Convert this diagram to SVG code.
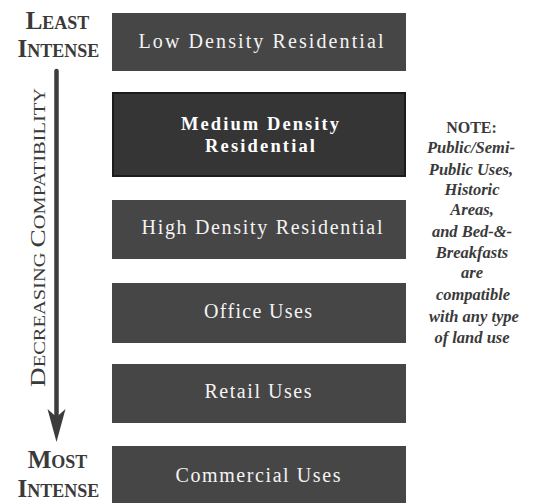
<svg xmlns="http://www.w3.org/2000/svg" width="535" height="503" viewBox="0 0 535 503">
  <style>
    .box { fill: #464646; }
    .boxdark { fill: #353535; stroke: #1c1c1c; stroke-width: 2; }
    .lbl { font-family: "Liberation Serif", "DejaVu Serif", serif; font-size: 20px; fill: #f4f4f4; text-anchor: middle; }
    .lblb { font-family: "Liberation Serif", "DejaVu Serif", serif; font-size: 18.5px; fill: #ffffff; text-anchor: middle; font-weight: bold; }
    .cap { font-family: "Liberation Serif", "DejaVu Serif", serif; font-weight: bold; fill: #3a3a3a; text-anchor: middle; }
    .big { font-size: 25px; }
    .sm { font-size: 18px; }
    .vert { font-family: "Liberation Serif", "DejaVu Serif", serif; fill: #3a3a3a; text-anchor: middle; }
    .note { font-family: "Liberation Serif", "DejaVu Serif", serif; font-size: 16.5px; font-style: italic; font-weight: bold; fill: #3a3a3a; text-anchor: middle; }
    .notehead { font-family: "Liberation Serif", "DejaVu Serif", serif; font-size: 16px; font-weight: bold; fill: #3a3a3a; text-anchor: middle; }
  </style>
  <rect width="535" height="503" fill="#ffffff"/>

  <g id="label-least">
    <text class="cap" x="57.5" y="29"><tspan class="big">L</tspan><tspan class="sm">EAST</tspan></text>
    <text class="cap" x="58.5" y="57"><tspan class="big">I</tspan><tspan class="sm">NTENSE</tspan></text>
  </g>
  <g id="label-most">
    <text class="cap" x="57.5" y="468"><tspan class="big">M</tspan><tspan class="sm">OST</tspan></text>
    <text class="cap" x="58.5" y="497"><tspan class="big">I</tspan><tspan class="sm">NTENSE</tspan></text>
  </g>
  <g id="label-axis">
    <text class="vert" transform="translate(45,237.5) rotate(-90)" x="0" y="0" textLength="299" lengthAdjust="spacingAndGlyphs"><tspan font-size="22">D</tspan><tspan font-size="16.5">ECREASING </tspan><tspan font-size="22">C</tspan><tspan font-size="16.5">OMPATIBILITY</tspan></text>
  </g>

  <g id="connectors">
    <line x1="56.5" y1="71" x2="56.5" y2="420" stroke="#3c3c3c" stroke-width="4.5" stroke-linecap="round"/>
    <path d="M56.5,442 L47.5,409 L56.5,417 L65.5,409 Z" fill="#3c3c3c"/>
  </g>

  <g id="node-low">
    <rect class="box" x="112" y="13" width="294" height="58"/>
    <text class="lbl" x="261" y="48" textLength="245" lengthAdjust="spacing">Low Density Residential</text>
  </g>
  <g id="node-medium">
    <rect class="boxdark" x="113" y="93" width="292" height="83"/>
    <text class="lblb" x="260" y="130" textLength="158" lengthAdjust="spacing">Medium Density</text>
    <text class="lblb" x="260" y="151.5" textLength="110" lengthAdjust="spacing">Residential</text>
  </g>
  <g id="node-high">
    <rect class="box" x="112" y="200" width="294" height="59"/>
    <text class="lbl" x="262" y="234" textLength="241" lengthAdjust="spacing">High Density Residential</text>
  </g>
  <g id="node-office">
    <rect class="box" x="112" y="283" width="294" height="60"/>
    <text class="lbl" x="258" y="318" textLength="108" lengthAdjust="spacing">Office Uses</text>
  </g>
  <g id="node-retail">
    <rect class="box" x="112" y="364" width="294" height="59"/>
    <text class="lbl" x="258" y="398" textLength="107" lengthAdjust="spacing">Retail Uses</text>
  </g>
  <g id="node-commercial">
    <rect class="box" x="112" y="446" width="294" height="57"/>
    <text class="lbl" x="258" y="482" textLength="165" lengthAdjust="spacing">Commercial Uses</text>
  </g>

  <g id="note">
    <text class="notehead" x="471.5" y="133">NOTE:</text>
    <text class="note" x="471" y="153">Public/Semi-</text>
    <text class="note" x="471" y="175">Public Uses,</text>
    <text class="note" x="472" y="195">Historic</text>
    <text class="note" x="472" y="215">Areas,</text>
    <text class="note" x="472" y="237">and Bed-&amp;-</text>
    <text class="note" x="472" y="258">Breakfasts</text>
    <text class="note" x="472" y="278">are</text>
    <text class="note" x="473" y="300">compatible</text>
    <text class="note" x="474" y="322">with any type</text>
    <text class="note" x="472" y="343">of land use</text>
  </g>
</svg>
